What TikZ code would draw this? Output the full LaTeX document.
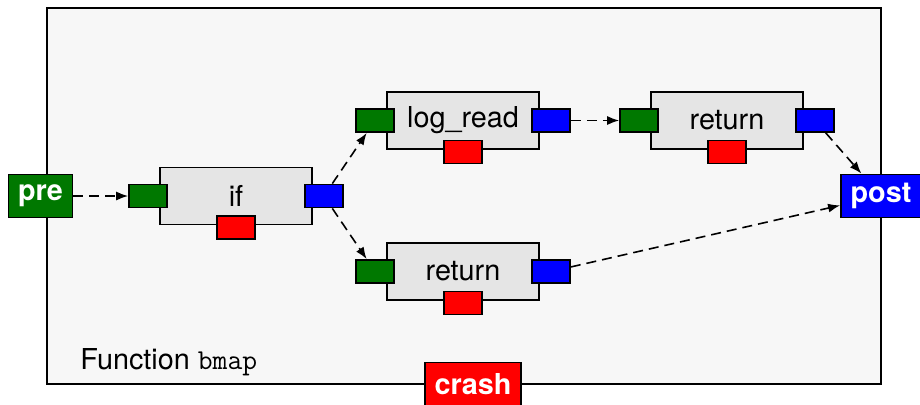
\documentclass[tikz,border=0pt]{standalone}
\usepackage{fontspec}
\setmainfont{TeX Gyre Heros}
\usetikzlibrary{arrows.meta}
\definecolor{pregreen}{RGB}{0,120,0}

\begin{document}
\begin{tikzpicture}[
  x=0.5pt, y=-0.5pt,
  font=\fontsize{14.4}{17}\selectfont,
  func/.style={draw, line width=0.9pt, fill=black!3, minimum width=417pt, minimum height=188pt},
  block/.style={draw, line width=0.9pt, fill=black!10, minimum width=76pt, minimum height=28.5pt, inner sep=0pt},
  port/.style={draw, line width=0.9pt, minimum width=19pt, minimum height=11.5pt, inner sep=0pt},
  inport/.style={port, fill=pregreen},
  outport/.style={port, fill=blue},
  errport/.style={port, fill=red},
  cond/.style={draw, line width=0.9pt, text=white, font=\fontsize{14.4}{17}\selectfont\bfseries,
    minimum height=21.5pt, inner xsep=4.8pt, inner ysep=0pt},
  flow/.style={-{Latex[length=6pt,width=4.5pt]}, line width=0.8pt, dash pattern=on 5pt off 3pt},
]
\useasboundingbox (0,0) rectangle (920,404);
\node[func] (fn) at (464,196) {};
\node[anchor=west, inner sep=0pt] (fnname) at (80,362) {Function \texttt{bmap}};

% blocks
\node[block] (ifblk)   at (236,196)   {if};
\node[block] (logread) at (463,120.5) {log\_read};
\node[block] (retA)    at (727,120.5) {return};
\node[block] (retB)    at (463,271.5) {return};

% ports: in (left), out (right), crash (below)
\node[inport]  (ifblk-in)    at ([xshift=-5.5pt]ifblk.west) {};
\node[outport] (ifblk-out)   at ([xshift=5.5pt]ifblk.east) {};
\node[errport] (ifblk-err)   at ([yshift=-1pt]ifblk.south) {};
\node[inport]  (logread-in)  at ([xshift=-5.5pt]logread.west) {};
\node[outport] (logread-out) at ([xshift=5.5pt]logread.east) {};
\node[errport] (logread-err) at ([yshift=-1pt]logread.south) {};
\node[inport]  (retA-in)     at ([xshift=-5.5pt]retA.west) {};
\node[outport] (retA-out)    at ([xshift=5.5pt]retA.east) {};
\node[errport] (retA-err)    at ([yshift=-1pt]retA.south) {};
\node[inport]  (retB-in)     at ([xshift=-5.5pt]retB.west) {};
\node[outport] (retB-out)    at ([xshift=5.5pt]retB.east) {};
\node[errport] (retB-err)    at ([yshift=-1pt]retB.south) {};

% pre / post / crash conditions
\node[cond, fill=pregreen] (pre)   at (40.5,196) {pre};
\node[cond, fill=blue]     (post)  at (881,196)  {post};
\node[cond, fill=red]      (crash) at (473,384)  {crash};

% control flow
\draw[flow] (pre) -- (ifblk-in);
\draw[flow] (ifblk-out) -- (logread-in);
\draw[flow] (ifblk-out) -- (retB-in);
\draw[flow] (logread-out) -- (retA-in);
\draw[flow] (retA-out) -- (post);
\draw[flow] (retB-out) -- (post);
\end{tikzpicture}
\end{document}
